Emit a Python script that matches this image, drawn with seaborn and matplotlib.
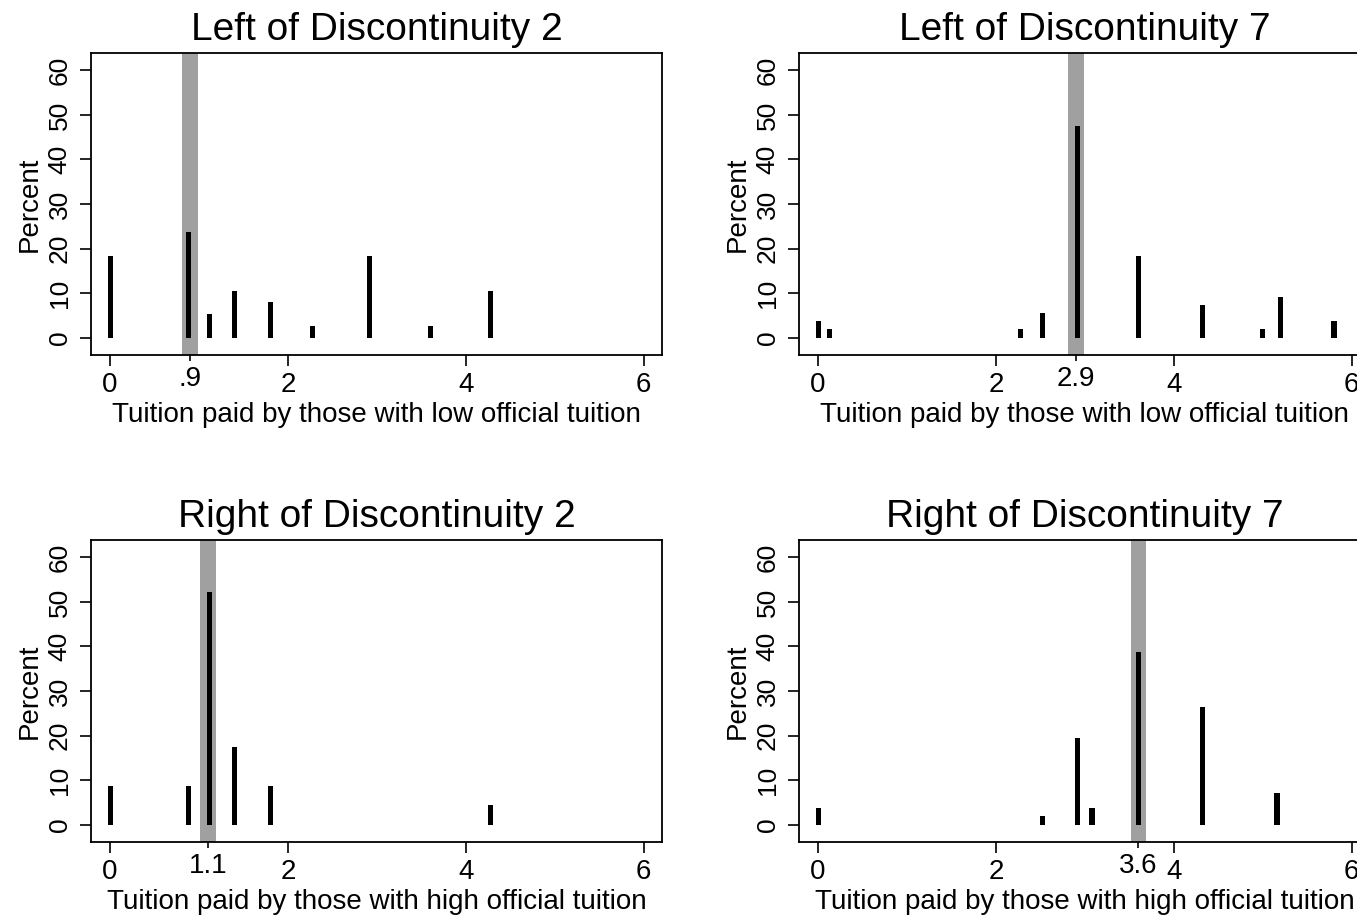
import matplotlib
matplotlib.use('Agg')
import matplotlib.pyplot as plt
import seaborn as sns
import numpy as np

sns.set_theme(style='white')
plt.rcParams['font.family'] = ['Liberation Sans', 'DejaVu Sans']

# ---- data ----
titles = ["Left of Discontinuity 2", "Left of Discontinuity 7",
          "Right of Discontinuity 2", "Right of Discontinuity 7"]
xlabels = ["Tuition paid by those with low official tuition",
           "Tuition paid by those with low official tuition",
           "Tuition paid by those with high official tuition",
           "Tuition paid by those with high official tuition"]

left2_tuition = [0.0, 0.88, 1.12, 1.40, 1.80, 2.28, 2.92, 3.60, 4.28]
left2_percent = [18.4, 23.7, 5.3, 10.5, 7.9, 2.6, 18.4, 2.6, 10.5]

left7_tuition = [0.0, 0.13, 2.28, 2.52, 2.92, 3.60, 4.32, 5.00, 5.20, 5.80]
left7_percent = [3.7, 1.9, 1.9, 5.5, 47.4, 18.4, 7.3, 1.9, 9.2, 3.7]

right2_tuition = [0.0, 0.88, 1.12, 1.40, 1.80, 4.28]
right2_percent = [8.7, 8.7, 52.2, 17.4, 8.7, 4.3]

right7_tuition = [0.0, 2.52, 2.92, 3.08, 3.60, 4.32, 5.16]
right7_percent = [3.7, 1.9, 19.4, 3.7, 38.7, 26.4, 7.2]

cutoffs = [0.9, 2.9, 1.1, 3.6]
cutoff_labels = [".9", "2.9", "1.1", "3.6"]
major_ticks = [0, 2, 4, 6]
y_ticks = [0, 10, 20, 30, 40, 50, 60]

series = [(left2_tuition, left2_percent), (left7_tuition, left7_percent),
          (right2_tuition, right2_percent), (right7_tuition, right7_percent)]

# ---- layout ----
W, H = 1357, 917
fig = plt.figure(figsize=(W / 100, H / 100), dpi=100)
fig.patch.set_facecolor('white')

ax_w = 571
ax_h = 302
lefts = [91, 799, 91, 799]
tops = [53, 53, 540, 540]

BAR_W = 0.058
BAND_W = 0.175

for i in range(4):
    l, t = lefts[i], tops[i]
    ax = fig.add_axes([l / W, (H - t - ax_h) / H, ax_w / W, ax_h / H])
    ax.set_facecolor('white')
    xs, ys = series[i]
    xs = np.asarray(xs, dtype=float)
    mind = np.diff(np.sort(xs)).min()
    ax.axvspan(cutoffs[i] - BAND_W / 2, cutoffs[i] + BAND_W / 2,
               color='#a0a0a0', lw=0, zorder=1)
    sns.barplot(x=xs, y=ys, native_scale=True, orient='x', errorbar=None,
                width=BAR_W / mind, color='black', saturation=1,
                linewidth=0, ax=ax, zorder=3)
    ax.set_xlim(-0.215, 6.205)
    ax.set_ylim(-3.9, 63.9)

    ax.set_xticks(major_ticks)
    ax.set_xticklabels([str(v) for v in major_ticks])
    ax.set_xticks([cutoffs[i]], labels=[cutoff_labels[i]], minor=True)
    ax.set_yticks(y_ticks)
    ax.set_yticklabels([str(v) for v in y_ticks])

    ax.tick_params(axis='x', which='major', bottom=True, length=8, width=1.2,
                   pad=4.5, labelsize=20, colors='black', direction='out')
    ax.tick_params(axis='x', which='minor', bottom=True, length=4.1, width=1.2,
                   pad=3.7, labelsize=20, colors='black', direction='out')
    ax.tick_params(axis='y', which='major', left=True, length=8, width=1.2,
                   pad=6, labelsize=19, colors='black', direction='out',
                   labelrotation=90)
    for lab in ax.get_yticklabels():
        lab.set_va('center')

    for sp in ax.spines.values():
        sp.set_visible(True)
        sp.set_color('black')
        sp.set_linewidth(1.3)

    ax.set_title(titles[i], fontsize=28, pad=9.1, color='black')
    ax.set_xlabel(xlabels[i], fontsize=20, color='black')
    ax.xaxis.set_label_coords(0.5, -0.155)
    ax.set_ylabel("Percent", fontsize=20, color='black')
    ax.yaxis.set_label_coords(-0.085, 0.5)

fig.savefig('out.png', dpi=100, facecolor='white')
